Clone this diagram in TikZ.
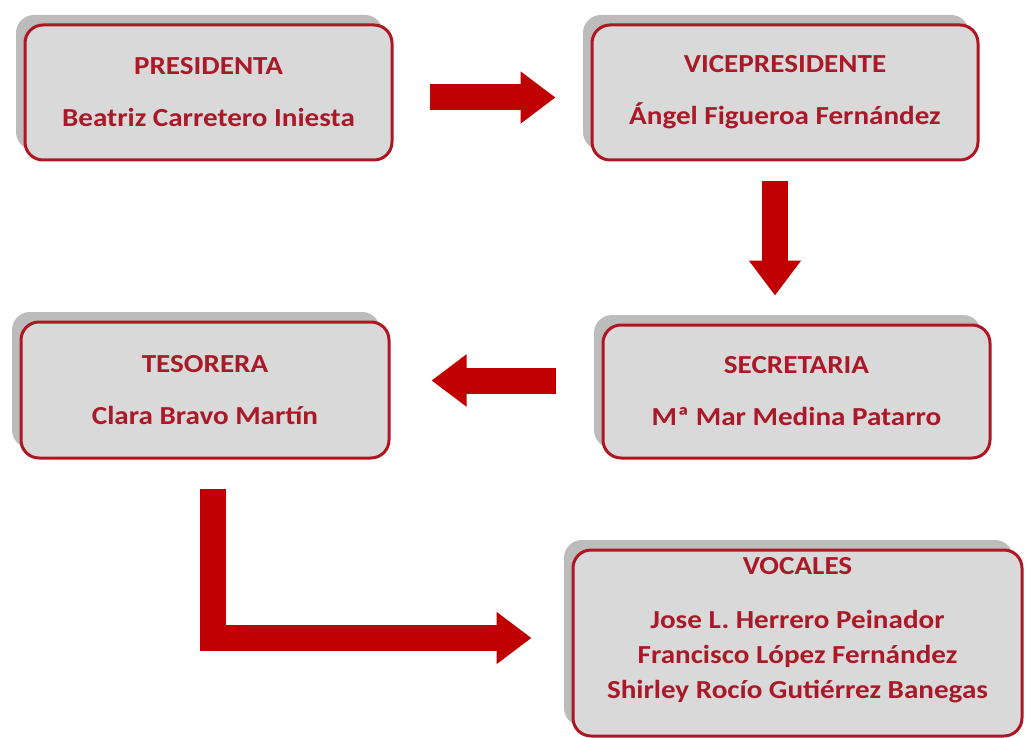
\documentclass[tikz,border=0pt]{standalone}
\usepackage{fontspec}
\setmainfont{Carlito}[FakeStretch=1.12]
\usetikzlibrary{calc}
\usetikzlibrary{shadows}
\usetikzlibrary{arrows.meta}

\definecolor{boxred}{RGB}{176,22,34}
\definecolor{txtred}{RGB}{170,25,40}
\definecolor{arrred}{RGB}{192,0,0}
\definecolor{boxgray}{RGB}{217,217,217}
\definecolor{shadegray}{RGB}{188,188,188}

\tikzset{
  cargo/.style={draw=boxred, line width=3pt, fill=boxgray, rounded corners=18pt,
    text=txtred, font=\bfseries\fontsize{26}{32}\selectfont, align=center, inner sep=0pt,
    drop shadow={shadow xshift=-9pt, shadow yshift=10pt, fill=shadegray, opacity=1}},
  flecha/.style={draw=arrred, line width=26pt, -{Triangle[width=50pt,length=35pt]}, line join=miter}
}

\begin{document}
\begin{tikzpicture}[x=1pt,y=1pt,yscale=-1,xscale=1]
\useasboundingbox (0,0) rectangle (1027,738);

%Shape: Rounded Rect [presidenta]
\node[cargo, minimum width=367pt, minimum height=135pt] (pres) at (208.5,92.5) {PRESIDENTA\\[20pt]Beatriz Carretero Iniesta};
%Shape: Rounded Rect [vicepresidente]
\node[cargo, minimum width=386pt, minimum height=135pt] (vice) at (785,92.5) {VICEPRESIDENTE\\[20pt]Ángel Figueroa Fernández};
%Shape: Rounded Rect [tesorera]
\node[cargo, minimum width=368pt, minimum height=136pt] (tes) at (205,390) {TESORERA\\[20pt]Clara Bravo Martín};
%Shape: Rounded Rect [secretaria]
\node[cargo, minimum width=387pt, minimum height=133pt] (sec) at (796.5,391.5) {SECRETARIA\\[20pt]Mª Mar Medina Patarro};
%Shape: Rounded Rect [vocales]
\node[cargo, font=\bfseries\fontsize{26}{35}\selectfont, minimum width=449pt, minimum height=186pt] (voc) at (797.5,643) {VOCALES\\[19pt]Jose L. Herrero Peinador\\Francisco López Fernández\\Shirley Rocío Gutiérrez Banegas\\[-4pt]\mbox{}};

\coordinate (vs) at ($(vice.south)+(-10,0)$);
\coordinate (sw) at ($(sec.west)+(0,-11)$);
\coordinate (ts) at ($(tes.south)+(8,0)$);
\coordinate (vw) at ($(voc.west)+(0,-5)$);

%Straight Lines [presidenta -> vicepresidente]
\draw[flecha, shorten <=36pt, shorten >=35pt] ($(pres.east)+(0,5)$) -- ($(vice.west)+(0,5)$);
%Straight Lines [vicepresidente -> secretaria]
\draw[flecha, shorten <=20pt, shorten >=28pt] (vs) -- (vs |- sec.north);
%Straight Lines [secretaria -> tesorera]
\draw[flecha, shorten <=46pt, shorten >=41pt] (sw) -- (sw -| tes.east);
%Elbow [tesorera -> vocales]
\draw[flecha, shorten <=29pt, shorten >=40pt] (ts) |- (vw);

\end{tikzpicture}
\end{document}
